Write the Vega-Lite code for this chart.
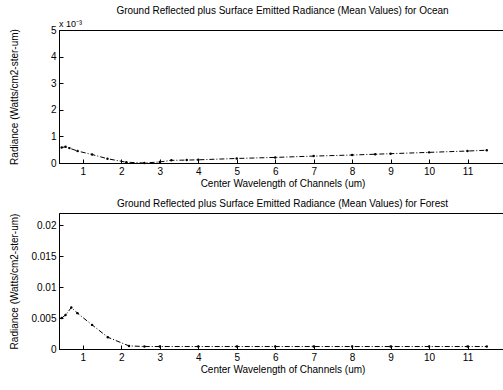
{
  "$schema": "https://vega.github.io/schema/vega-lite/v6.json",
  "background": "white",
  "padding": {"left": 8, "top": 5, "right": 1, "bottom": 2},
  "spacing": 9,
  "config": {
    "font": "Liberation Sans",
    "view": {"stroke": "black", "strokeWidth": 1},
    "title": {"fontSize": 10, "fontWeight": "normal", "color": "black", "offset": 4},
    "axis": {
      "grid": false, "domainColor": "black", "tickColor": "black", "tickSize": -4,
      "labelPadding": 7, "labelFontSize": 10, "labelColor": "black", "labelOverlap": false,
      "titleFontSize": 10, "titleFontWeight": "normal", "titleColor": "black"
    }
  },
  "datasets": {
    "rad": [
      {"surface": "Ocean", "wavelength": 0.45, "radiance": 0.00058},
      {"surface": "Ocean", "wavelength": 0.55, "radiance": 0.00061},
      {"surface": "Ocean", "wavelength": 0.65, "radiance": 0.00056},
      {"surface": "Ocean", "wavelength": 0.86, "radiance": 0.00045},
      {"surface": "Ocean", "wavelength": 1.24, "radiance": 0.00032},
      {"surface": "Ocean", "wavelength": 1.64, "radiance": 0.00016},
      {"surface": "Ocean", "wavelength": 2.13, "radiance": 0.00003},
      {"surface": "Ocean", "wavelength": 2.6, "radiance": 0.0},
      {"surface": "Ocean", "wavelength": 3.0, "radiance": 0.00004},
      {"surface": "Ocean", "wavelength": 3.3, "radiance": 0.0001},
      {"surface": "Ocean", "wavelength": 3.7, "radiance": 0.00011},
      {"surface": "Ocean", "wavelength": 4.0, "radiance": 0.00012},
      {"surface": "Ocean", "wavelength": 5.0, "radiance": 0.00017},
      {"surface": "Ocean", "wavelength": 6.0, "radiance": 0.00021},
      {"surface": "Ocean", "wavelength": 7.0, "radiance": 0.00026},
      {"surface": "Ocean", "wavelength": 8.0, "radiance": 0.0003},
      {"surface": "Ocean", "wavelength": 8.6, "radiance": 0.00033},
      {"surface": "Ocean", "wavelength": 9.0, "radiance": 0.00035},
      {"surface": "Ocean", "wavelength": 10.0, "radiance": 0.0004},
      {"surface": "Ocean", "wavelength": 11.0, "radiance": 0.00045},
      {"surface": "Ocean", "wavelength": 11.5, "radiance": 0.00048},
      {"surface": "Forest", "wavelength": 0.45, "radiance": 0.005},
      {"surface": "Forest", "wavelength": 0.55, "radiance": 0.0055},
      {"surface": "Forest", "wavelength": 0.7, "radiance": 0.0067},
      {"surface": "Forest", "wavelength": 0.86, "radiance": 0.0058},
      {"surface": "Forest", "wavelength": 1.24, "radiance": 0.0039},
      {"surface": "Forest", "wavelength": 1.65, "radiance": 0.0019},
      {"surface": "Forest", "wavelength": 2.2, "radiance": 0.0005},
      {"surface": "Forest", "wavelength": 2.6, "radiance": 0.0004},
      {"surface": "Forest", "wavelength": 3.0, "radiance": 0.0004},
      {"surface": "Forest", "wavelength": 4.0, "radiance": 0.0004},
      {"surface": "Forest", "wavelength": 5.0, "radiance": 0.0004},
      {"surface": "Forest", "wavelength": 6.0, "radiance": 0.0004},
      {"surface": "Forest", "wavelength": 7.0, "radiance": 0.0004},
      {"surface": "Forest", "wavelength": 8.0, "radiance": 0.0004},
      {"surface": "Forest", "wavelength": 9.0, "radiance": 0.0004},
      {"surface": "Forest", "wavelength": 10.0, "radiance": 0.0004},
      {"surface": "Forest", "wavelength": 11.0, "radiance": 0.0004},
      {"surface": "Forest", "wavelength": 11.5, "radiance": 0.0004}
    ]
  },
  "vconcat": [
    {
      "title": "Ground Reflected plus Surface Emitted Radiance (Mean Values) for Ocean",
      "width": 447, "height": 133,
      "encoding": {
        "x": {"type": "quantitative", "scale": {"domain": [0.38, 12], "nice": false, "zero": false},
              "axis": {"values": [1,2,3,4,5,6,7,8,9,10,11], "title": "Center Wavelength of Channels (um)", "titlePadding": 2}},
        "y": {"type": "quantitative", "scale": {"domain": [0, 0.005], "nice": false},
              "axis": {"values": [0, 0.001, 0.002, 0.003, 0.004, 0.005], "labelOverlap": false, "labelExpr": "format(datum.value*1000, '~g')", "title": "Radiance (Watts/cm2-ster-um)", "titleX": -40}}
      },
      "layer": [
        {
          "data": {"name": "rad"},
          "transform": [{"filter": "datum.surface === 'Ocean'"}],
          "mark": {"type": "line", "color": "black", "strokeWidth": 1, "strokeDash": [5, 2, 1, 2], "point": {"filled": true, "size": 6, "color": "black"}},
          "encoding": {
            "x": {"field": "wavelength"},
            "y": {"field": "radiance"}
          }
        },
        {
          "data": {"values": [{"note": "x 10⁻³"}]},
          "mark": {"type": "text", "align": "left", "baseline": "bottom", "dy": -1, "fontSize": 9, "color": "black"},
          "encoding": {"text": {"field": "note"}, "x": {"datum": 0.38}, "y": {"datum": 0.005}}
        }
      ]
    },
    {
      "title": "Ground Reflected plus Surface Emitted Radiance (Mean Values) for Forest",
      "width": 447, "height": 136,
      "data": {"name": "rad"},
      "transform": [{"filter": "datum.surface === 'Forest'"}],
      "mark": {"type": "line", "color": "black", "strokeWidth": 1, "strokeDash": [5, 2, 1, 2], "point": {"filled": true, "size": 6, "color": "black"}},
      "encoding": {
        "x": {"field": "wavelength", "type": "quantitative", "scale": {"domain": [0.38, 12], "nice": false, "zero": false},
              "axis": {"values": [1,2,3,4,5,6,7,8,9,10,11], "title": "Center Wavelength of Channels (um)", "titlePadding": 2}},
        "y": {"field": "radiance", "type": "quantitative", "scale": {"domain": [0, 0.022], "nice": false},
              "axis": {"values": [0, 0.005, 0.01, 0.015, 0.02], "format": "~g", "title": "Radiance (Watts/cm2-ster-um)", "titleX": -40}}
      }
    }
  ]
}
